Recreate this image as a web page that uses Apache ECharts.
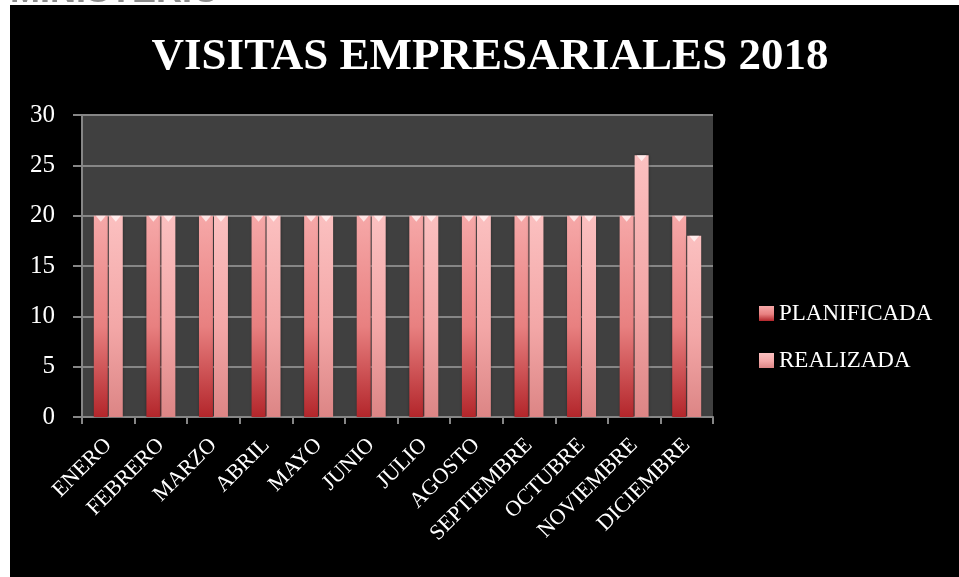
<!DOCTYPE html>
<html><head><meta charset="utf-8">
<script src="https://cdn.jsdelivr.net/npm/echarts@6/dist/echarts.min.js"></script>
<style>html,body{margin:0;padding:0;background:#fff}#c{width:959px;height:577px}</style>
</head><body><div id="c"></div>
<script>
const months = ['ENERO','FEBRERO','MARZO','ABRIL','MAYO','JUNIO','JULIO','AGOSTO','SEPTIEMBRE','OCTUBRE','NOVIEMBRE','DICIEMBRE'];
const planificada = [20,20,20,20,20,20,20,20,20,20,20,20];
const realizada = [20,20,20,20,20,20,20,20,20,20,26,18];
const seriesNames = ['PLANIFICADA','REALIZADA'];
const titleText = 'VISITAS EMPRESARIALES 2018';
const headerText = 'MINISTERIO';

const serif = '"Liberation Serif", "DejaVu Serif", serif';
const G = echarts.graphic.LinearGradient;
const planColor = new G(0,0,0,1,[{offset:0,color:'#f6a8a8'},{offset:0.55,color:'#e88080'},{offset:1,color:'#b3262b'}]);
const realColor = new G(0,0,0,1,[{offset:0,color:'#fbc0c0'},{offset:0.55,color:'#f3a7a7'},{offset:1,color:'#dc8585'}]);

const chart = echarts.init(document.getElementById('c'), null, {renderer:'canvas'});
chart.setOption({
  backgroundColor:'#ffffff',
  animation:false,
  graphic:[
    {type:'text', left:10, top:-26, z:-2, style:{text:headerText, fill:'#8c8c8c', font:'bold 36px "Liberation Sans", Arial, sans-serif'}},
    {type:'rect', shape:{x:10,y:5,width:960,height:580}, style:{fill:'#000'}, z:-1},
    {type:'text', x:490, y:57, z:10, style:{text:titleText, fill:'#ffffff', font:'bold 45px '+serif, textAlign:'center', textVerticalAlign:'middle'}}
  ],
  grid:{left:82, right:246, top:115, bottom:160, show:true, backgroundColor:'#404040', borderWidth:0},
  legend:{orient:'vertical', left:754, top:297, itemWidth:15, itemHeight:15, itemGap:24, icon:'rect',
    textStyle:{color:'#ffffff', fontSize:23, fontFamily:serif}, data:seriesNames},
  xAxis:{type:'category', data:months,
    axisLine:{lineStyle:{color:'#868686', width:2}},
    axisTick:{show:true, length:7, lineStyle:{color:'#868686', width:2}},
    axisLabel:{rotate:45, color:'#ffffff', fontSize:22, fontFamily:serif, margin:25, interval:0}},
  yAxis:{type:'value', min:0, max:30, interval:5,
    axisLine:{show:true, lineStyle:{color:'#868686', width:2}},
    axisTick:{show:true, length:9, lineStyle:{color:'#868686', width:2}},
    axisLabel:{color:'#ffffff', fontSize:25, fontFamily:serif, margin:27},
    splitLine:{lineStyle:{color:'#868686', width:2}}},
  series:[
    {name:seriesNames[0], type:'bar', data:planificada, barWidth:14, barGap:'7%',
      itemStyle:{color:planColor, shadowColor:'rgba(0,0,0,0.5)', shadowBlur:3}},
    {name:seriesNames[1], type:'bar', data:realizada, barWidth:14,
      itemStyle:{color:realColor, shadowColor:'rgba(0,0,0,0.5)', shadowBlur:3}},
    {name:'capP', type:'scatter', data:planificada, symbol:'triangle', symbolRotate:180, symbolSize:[10,6],
      symbolOffset:[-7.5,3], itemStyle:{color:'rgba(255,255,255,0.85)'}, silent:true, z:5},
    {name:'capR', type:'scatter', data:realizada, symbol:'triangle', symbolRotate:180, symbolSize:[10,6],
      symbolOffset:[7.5,3], itemStyle:{color:'rgba(255,255,255,0.85)'}, silent:true, z:5}
  ]
});
</script></body></html>
